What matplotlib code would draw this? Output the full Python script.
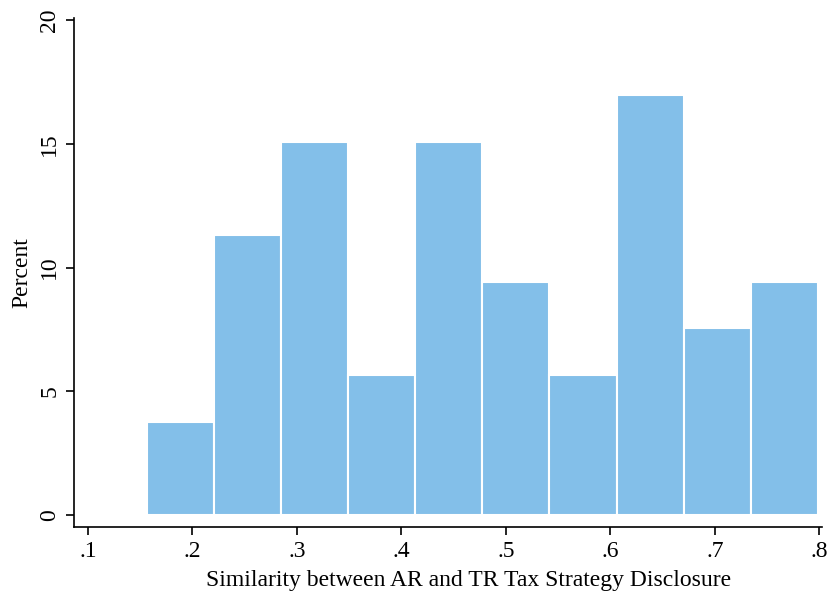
import numpy as np
import matplotlib.pyplot as plt

# histogram data
bin_start = 0.1565
bin_width = 0.0642
percent = [3.77, 11.32, 15.09, 5.66, 15.09, 9.43, 5.66, 16.98, 7.55, 9.43]
xticks = [0.1, 0.2, 0.3, 0.4, 0.5, 0.6, 0.7, 0.8]
xtick_labels = ['.1', '.2', '.3', '.4', '.5', '.6', '.7', '.8']
yticks = [0, 5, 10, 15, 20]

plt.rcParams['font.family'] = ['Liberation Serif', 'DejaVu Serif']

fig = plt.figure(figsize=(8.27, 5.91), dpi=100)
ax = fig.add_axes([0.0895, 0.108, 0.905, 0.862])

lefts = bin_start + bin_width * np.arange(len(percent))
ax.bar(lefts, percent, width=bin_width, align='edge',
       color='#83BFE9', edgecolor='white', linewidth=1.5)

ax.set_xlim(0.0866, 0.803)
ax.set_ylim(-0.485, 20.1)
ax.set_xticks(xticks)
ax.set_xticklabels(xtick_labels)
ax.set_yticks(yticks)
ax.set_yticklabels([str(v) for v in yticks], rotation=90, va='center')

ax.spines['top'].set_visible(False)
ax.spines['right'].set_visible(False)
for s in ['left', 'bottom']:
    ax.spines[s].set_linewidth(1.2)
ax.tick_params(direction='out', length=6, width=1.2, labelsize=17, pad=4)

ax.set_xlabel('Similarity between AR and TR Tax Strategy Disclosure', fontsize=17)
ax.set_ylabel('Percent', fontsize=17)
ax.xaxis.set_label_coords(0.527, -0.085)
ax.yaxis.set_label_coords(-0.056, 0.5)

fig.savefig('out.png', dpi=100)
